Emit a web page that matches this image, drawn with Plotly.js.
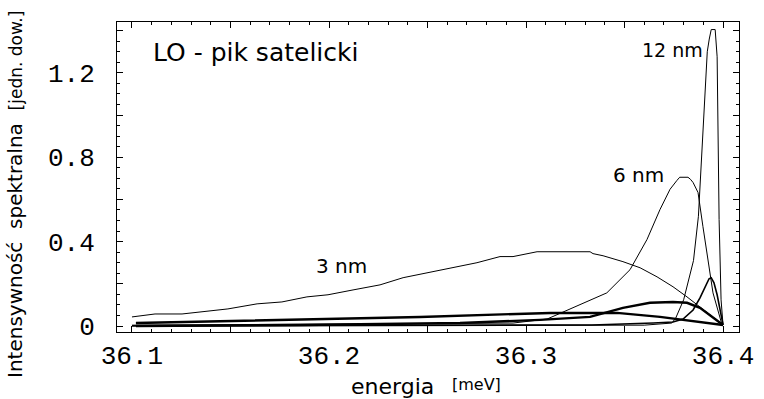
<!DOCTYPE html>
<html>
<head>
<meta charset="utf-8">
<script src="https://cdn.plot.ly/plotly-3.0.1.min.js"></script>
<style>html,body{margin:0;padding:0;background:#fff;}#chart{width:764px;height:399px;}</style>
</head>
<body>
<div id="chart"></div>
<script>
// ---- data ----
const x3nm = [36.1000,36.1117,36.1254,36.1487,36.1635,36.1761,36.1888,36.1995,36.2122,36.2259,36.2376,36.2528,36.2751,36.2868,36.2934,36.3056,36.3325,36.3340,36.3391,36.3492,36.3579,36.3665,36.3746,36.3817,36.3883,36.3949,36.4000];
const y3nm = [0.043,0.057,0.057,0.081,0.105,0.114,0.138,0.148,0.171,0.195,0.229,0.257,0.300,0.329,0.329,0.352,0.352,0.343,0.333,0.305,0.276,0.233,0.186,0.138,0.090,0.043,0.005];

const x6nm = [36.1000,36.2690,36.2934,36.3107,36.3239,36.3410,36.3528,36.3614,36.3680,36.3731,36.3766,36.3780,36.3822,36.3835,36.3848,36.3873,36.3898,36.3924,36.3949,36.3995];
const y6nm = [0.004,0.010,0.014,0.033,0.086,0.157,0.267,0.410,0.552,0.648,0.690,0.705,0.705,0.695,0.680,0.633,0.471,0.314,0.157,0.005];

const x12nm = [36.1000,36.3600,36.3740,36.3760,36.3800,36.3850,36.3875,36.3900,36.3920,36.3930,36.3940,36.3960,36.3970,36.3980,36.3990,36.4000];
const y12nm = [0.002,0.004,0.014,0.038,0.124,0.310,0.520,0.980,1.300,1.360,1.405,1.405,1.276,0.505,0.124,0.005];

const x3nmB = [36.1020,36.1853,36.2462,36.3122,36.3462,36.3680,36.4000];
const y3nmB = [0.014,0.029,0.043,0.062,0.062,0.043,0.005];

const x6nmB = [36.1020,36.1853,36.2665,36.3071,36.3325,36.3492,36.3629,36.3746,36.3817,36.3883,36.4000];
const y6nmB = [0.000,0.005,0.014,0.029,0.043,0.086,0.110,0.114,0.110,0.086,0.005];

const x12nmB = [36.1000,36.3335,36.3645,36.3746,36.3797,36.3848,36.3883,36.3914,36.3929,36.3940,36.3954,36.3970,36.4000];
const y12nmB = [0.000,0.005,0.014,0.019,0.033,0.076,0.133,0.195,0.224,0.229,0.205,0.148,0.005];

const xTickVals = [36.1,36.15,36.2,36.25,36.3,36.35,36.4];
const xTickText = ['36.1','','36.2','','36.3','','36.4'];
const yTickVals = [0,0.2,0.4,0.6,0.8,1.0,1.2,1.4];
const yTickText = ['0','','0.4','','0.8','','1.2',''];

// ---- layout helpers ----
const L = 117, R = 739, T = 22, B = 332;
const px = v => (v - L) / (R - L);
const py = v => (B - v) / (B - T);

function line(x, y, w) {
  return {x: x, y: y, type: 'scatter', mode: 'lines', line: {color: '#000', width: w}, hoverinfo: 'skip', showlegend: false};
}

const traces = [
  line(x3nmB, y3nmB, 2.4),
  line(x6nmB, y6nmB, 2.4),
  line(x12nmB, y12nmB, 1.6),
  line(x3nm, y3nm, 1),
  line(x6nm, y6nm, 1),
  line(x12nm, y12nm, 1)
];

const sans = 'DejaVu Sans, sans-serif';
const mono = 'Liberation Mono, monospace';

function ann(text, x, y, size, extra) {
  return Object.assign({text: text, xref: 'paper', yref: 'paper', x: px(x), y: py(y), xanchor: 'center', yanchor: 'middle', showarrow: false, font: {family: sans, size: size, color: '#000'}}, extra || {});
}

const layout = {
  width: 764, height: 399,
  margin: {l: L, r: 764 - R, t: T, b: 399 - B, pad: 0},
  paper_bgcolor: '#fff', plot_bgcolor: '#fff',
  showlegend: false,
  xaxis: {
    range: [36.0924, 36.4081],
    tickmode: 'array', tickvals: xTickVals, ticktext: xTickText,
    ticks: 'inside', ticklen: 6, tickwidth: 1, tickcolor: '#000',
    showline: true, linecolor: '#000', linewidth: 1, mirror: 'allticks',
    showgrid: false, zeroline: false,
    minor: {tickmode: 'linear', tick0: 36.1, dtick: 0.01, ticks: 'inside', ticklen: 3, tickcolor: '#000', showgrid: false},
    tickfont: {family: mono, size: 26, color: '#000'},
    ticklabelstandoff: 0
  },
  yaxis: {
    range: [-0.0284, 1.4408],
    tickmode: 'array', tickvals: yTickVals, ticktext: yTickText,
    ticks: 'inside', ticklen: 6, tickwidth: 1, tickcolor: '#000',
    showline: true, linecolor: '#000', linewidth: 1, mirror: 'allticks',
    showgrid: false, zeroline: false,
    minor: {tickmode: 'linear', tick0: 0, dtick: 0.05, ticks: 'inside', ticklen: 3, tickcolor: '#000', showgrid: false},
    tickfont: {family: mono, size: 26, color: '#000'},
    ticklabelstandoff: 16
  },
  annotations: [
    ann('LO - pik satelicki', 255, 52, 25),
    ann('12 nm', 672, 50, 19),
    ann('6 nm', 638, 175, 20),
    ann('3 nm', 341, 266, 20),
    ann('energia', 392, 386, 22),
    ann('[meV]', 476, 384, 16),
    ann('Intensywność  spektralna  <span style="font-size:17px">[jedn. dow.]</span>', 15, 195, 20, {textangle: -90})
  ]
};

Plotly.newPlot('chart', traces, layout, {staticPlot: true, displayModeBar: false});
</script>
</body>
</html>
